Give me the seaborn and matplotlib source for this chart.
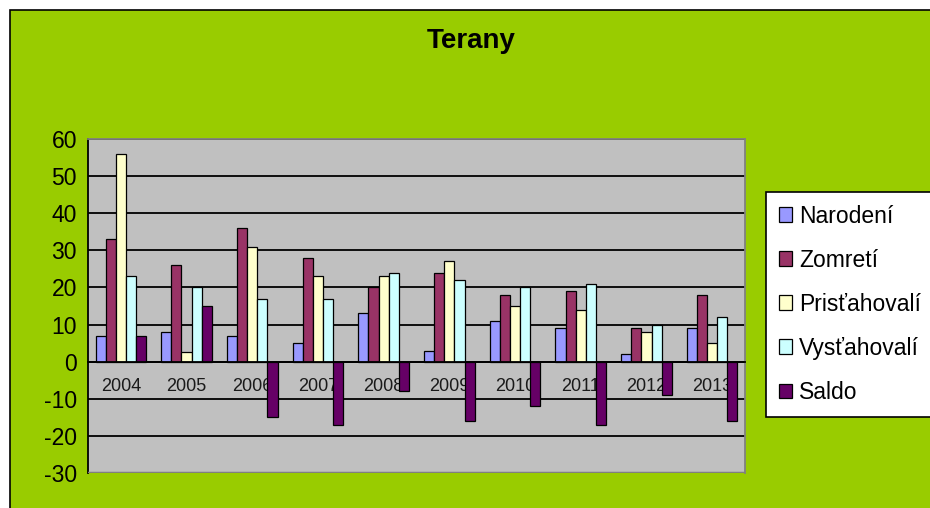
import matplotlib

matplotlib.use("Agg")
import matplotlib.pyplot as plt
from matplotlib.patches import Rectangle
from matplotlib.ticker import FixedLocator
import pandas as pd
import seaborn as sns

years = ["2004", "2005", "2006", "2007", "2008", "2009", "2010", "2011", "2012", "2013"]
narodeni = [7, 8, 7, 5, 13, 3, 11, 9, 2, 9]
zomreti = [33, 26, 36, 28, 20, 24, 18, 19, 9, 18]
pristahovali = [56, 2.5, 31, 23, 23, 27, 15, 14, 8, 5]
vystahovali = [23, 20, 17, 17, 24, 22, 20, 21, 10, 12]
saldo = [7, 15, -15, -17, -8, -16, -12, -17, -9, -16]

series = ["Narodení", "Zomretí", "Prisťahovalí", "Vysťahovalí", "Saldo"]
colors = ["#9999FF", "#993366", "#FFFFCC", "#CCFFFF", "#660066"]

df = pd.DataFrame(
    {
        "year": years * 5,
        "series": [s for s in series for _ in years],
        "value": narodeni + zomreti + pristahovali + vystahovali + saldo,
    }
)

sns.set_style("white")
plt.rcParams["font.family"] = ["Liberation Sans", "DejaVu Sans"]
plt.rcParams["axes.unicode_minus"] = False
plt.rcParams["text.color"] = "black"

green = "#99CC00"
fig = plt.figure(figsize=(9.3, 5.08), dpi=100, facecolor="white")
# green chart area with black border, cut off at right and bottom
fig.patches.append(
    Rectangle((10 / 930, -0.05), 1.0, 1.05 - 10 / 508, transform=fig.transFigure,
              facecolor=green, edgecolor="black", linewidth=1.2, zorder=-1)
)

ax = fig.add_axes([88 / 930, 1 - 473 / 508, 657 / 930, 334 / 508])
ax.set_facecolor("#C0C0C0")

sns.barplot(
    data=df, x="year", y="value", hue="series", hue_order=series,
    palette=colors, width=0.77, gap=0, edgecolor="black", linewidth=0.9,
    saturation=1, ax=ax, zorder=3,
)

ax.set_ylim(-30, 60)
ax.set_xlim(-0.5, 9.5)
ax.set_yticks(range(-30, 61, 10))
ax.tick_params(axis="y", labelsize=16.5, direction="out", length=5, width=1.2,
               color="black", labelcolor="black", pad=3)
ax.yaxis.grid(True, color="black", linewidth=1.3, zorder=1)
ax.set_axisbelow(True)
ax.set_xlabel("")
ax.set_ylabel("")

# x axis sits on zero line, ticks at category boundaries
ax.spines["bottom"].set_position(("data", 0))
ax.spines["bottom"].set_color("black")
ax.spines["bottom"].set_linewidth(1.3)
ax.spines["bottom"].set_zorder(4)
ax.spines["left"].set_color("black")
ax.spines["left"].set_linewidth(1.3)
for s in ["top", "right"]:
    ax.spines[s].set_color("#808080")
    ax.spines[s].set_linewidth(1.3)
ax.axhline(-30, color="#808080", linewidth=2.5, zorder=5)

ax.xaxis.set_minor_locator(FixedLocator([i + 0.5 for i in range(-1, 10)]))
ax.tick_params(axis="x", which="major", length=0, labelsize=13, pad=12,
               labelcolor="#1a1a1a")
ax.tick_params(axis="x", which="minor", length=5, width=1.2, color="black",
               direction="out")

handles, labels = ax.get_legend_handles_labels()
ax.get_legend().remove()
leg = fig.legend(
    handles, labels, loc="upper left",
    bbox_to_anchor=(766 / 930, 1 - 192 / 508),
    fontsize=16.5, frameon=True, fancybox=False, framealpha=1,
    edgecolor="black", handlelength=0.6, handleheight=0.6,
    handletextpad=0.3, labelspacing=0.92, borderpad=0.55, borderaxespad=0,
)
leg.get_frame().set_linewidth(1.2)

fig.text(471 / 930, 1 - 41 / 508, "Terany", ha="center", va="center",
         fontsize=20, fontweight="bold", color="black")

fig.savefig("out.png", dpi=100, facecolor=fig.get_facecolor())
